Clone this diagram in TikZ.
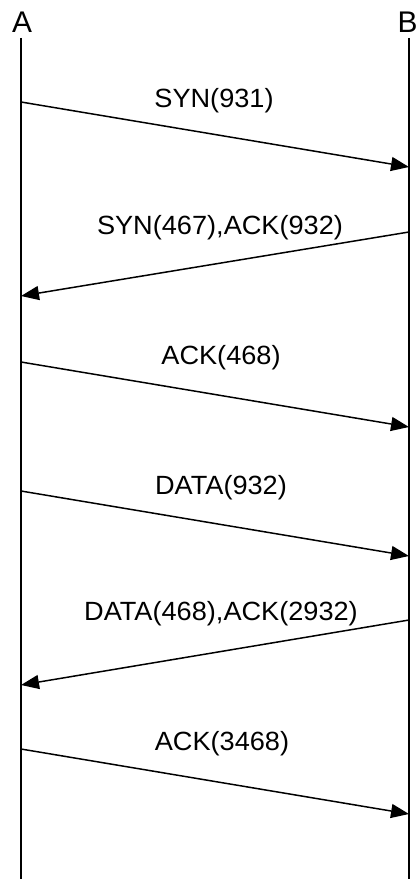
\documentclass[tikz,border=0pt]{standalone}
\usepackage{fontspec}
\setmainfont{Liberation Sans}
\usetikzlibrary{arrows.meta}

\begin{document}
\begin{tikzpicture}[
    host/.style={font=\fontsize{17}{19}\selectfont, inner sep=0pt},
    lifeline/.style={line width=0.9pt},
    msg/.style={line width=0.85pt, -{Triangle[length=0.36cm, width=0.28cm]}},
    lbl/.style={font=\fontsize{15}{17}\selectfont, xscale=1.03, transform shape, inner sep=0pt},
]
\useasboundingbox (0,0) rectangle (8.32,-17.58);

% --- Hosts ---
\node[host] (A) at (0.44, -0.44) {A};
\node[host] (B) at (8.15, -0.44) {B};

% --- Lifelines ---
\coordinate (Atop) at (0.42, -0.76);
\coordinate (Abot) at (0.42, -17.58);
\coordinate (Btop) at (8.18, -0.76);
\coordinate (Bbot) at (8.18, -17.58);
\draw[lifeline] (Atop) -- (Abot);
\draw[lifeline] (Btop) -- (Bbot);

% --- Message end points ---
\coordinate (a1) at (0.42, -2.04);  \coordinate (b1) at (8.18, -3.34);
\coordinate (b2) at (8.18, -4.64);  \coordinate (a2) at (0.42, -5.92);
\coordinate (a3) at (0.42, -7.24);  \coordinate (b3) at (8.18, -8.54);
\coordinate (a4) at (0.42, -9.82);  \coordinate (b4) at (8.18, -11.12);
\coordinate (b5) at (8.18, -12.40); \coordinate (a5) at (0.42, -13.70);
\coordinate (a6) at (0.42, -14.98); \coordinate (b6) at (8.18, -16.28);

% === Messages ===
\draw[msg] (a1) -- (b1);
\draw[msg] (b2) -- (a2);
\draw[msg] (a3) -- (b3);
\draw[msg] (a4) -- (b4);
\draw[msg] (b5) -- (a5);
\draw[msg] (a6) -- (b6);

% === Message labels ===
\node[lbl] (m1) at (4.28, -2.02) {SYN(931)};
\node[lbl] (m2) at (4.40, -4.56) {SYN(467),ACK(932)};
\node[lbl] (m3) at (4.42, -7.16) {ACK(468)};
\node[lbl] (m4) at (4.42, -9.76) {DATA(932)};
\node[lbl] (m5) at (4.42, -12.28) {DATA(468),ACK(2932)};
\node[lbl] (m6) at (4.44, -14.88) {ACK(3468)};

\end{tikzpicture}
\end{document}
